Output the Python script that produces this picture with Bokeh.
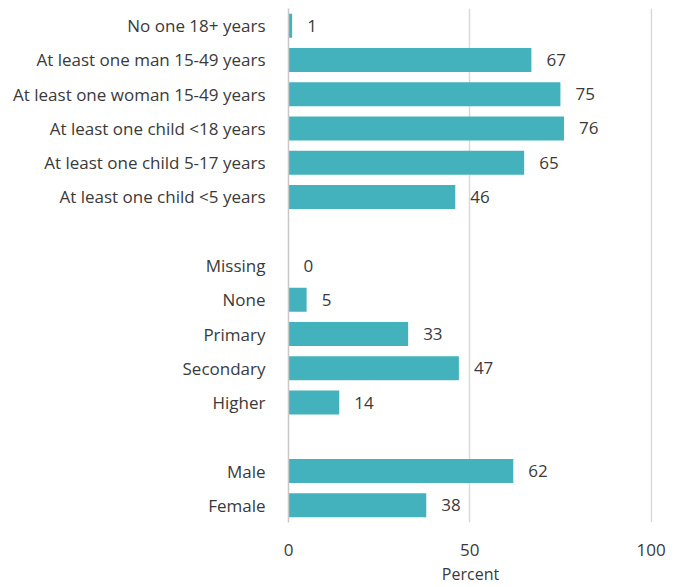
from bokeh.plotting import figure
from bokeh.models import ColumnDataSource, FactorRange, FixedTicker
from bokeh.core.properties import value
from bokeh.embed import file_html
from bokeh.resources import INLINE

categories = [
    "No one 18+ years",
    "At least one man 15-49 years",
    "At least one woman 15-49 years",
    "At least one child <18 years",
    "At least one child 5-17 years",
    "At least one child <5 years",
    " ",
    "Missing",
    "None",
    "Primary",
    "Secondary",
    "Higher",
    "  ",
    "Male",
    "Female",
]
values = [1, 67, 75, 76, 65, 46, None, 0, 5, 33, 47, 14, None, 62, 38]
x_ticks = [0, 50, 100]

FONT = "Open Sans"
TXT = "#3a3a3a"
BAR = "#44b2bd"

cats = [c for c, v in zip(categories, values) if v is not None]
vals = [v for v in values if v is not None]
src = ColumnDataSource(dict(cat=cats, val=vals, lab=[str(v) for v in vals]))

p = figure(
    width=682, height=587,
    y_range=FactorRange(*list(reversed(categories)), range_padding=0),
    x_range=(0, 100.4),
    output_backend="svg", toolbar_location=None,
    min_border_left=288, min_border_top=8, min_border_right=30, min_border_bottom=0,
)
p.hbar(y="cat", right="val", left=0, height=0.7, source=src,
       fill_color=BAR, line_color=None)
p.text(x="val", y="cat", text="lab", source=src, x_offset=15,
       text_align="left", text_baseline="middle",
       text_font=value(FONT), text_font_size="17px", text_color=TXT)

p.outline_line_color = None
p.ygrid.grid_line_color = None
p.xgrid.ticker = FixedTicker(ticks=x_ticks)
p.xgrid.grid_line_color = "#d9d9d9"
p.xgrid.grid_line_width = 1.5

p.xaxis.ticker = FixedTicker(ticks=x_ticks)
p.xaxis.axis_line_color = None
p.xaxis.major_tick_line_color = None
p.xaxis.minor_tick_line_color = None
p.xaxis.major_label_standoff = 15
p.xaxis.major_label_text_font = FONT
p.xaxis.major_label_text_font_size = "17px"
p.xaxis.major_label_text_color = TXT
p.xaxis.axis_label = "Percent"
p.xaxis.axis_label_text_font = FONT
p.xaxis.axis_label_text_font_size = "16px"
p.xaxis.axis_label_text_font_style = "normal"
p.xaxis.axis_label_text_color = TXT
p.xaxis.axis_label_standoff = 4

p.yaxis.axis_line_color = "#c8c8c8"
p.yaxis.axis_line_width = 1.5
p.yaxis.major_tick_line_color = None
p.yaxis.minor_tick_line_color = None
p.yaxis.major_label_standoff = 17
p.yaxis.major_label_text_font = FONT
p.yaxis.major_label_text_font_size = "17px"
p.yaxis.major_label_text_color = TXT

open("out.html", "w").write(file_html(p, INLINE))
